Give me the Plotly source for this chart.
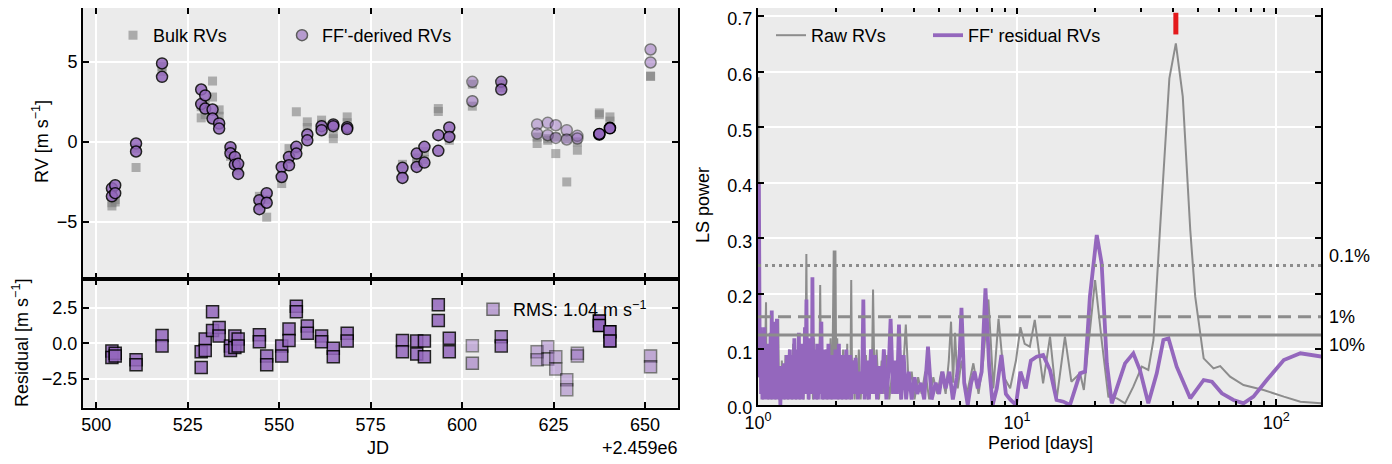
import plotly.graph_objects as go

# The page places the figure 8 px from the window's top-left corner.
OFF = 8
W, H = 1392 - OFF, 464 - OFF

# ---------------- RV time series (JD - 2459000) ----------------
jd = [504.3, 504.3, 505.2, 505.2,
      510.9, 510.9,
      518.0, 518.0,
      528.7, 528.7, 529.8, 529.8, 531.8, 531.8, 533.6, 533.6,
      536.7, 536.7, 537.9, 537.9, 538.8, 538.8,
      544.6, 544.6, 546.6, 546.6,
      550.7, 550.7, 552.7, 552.7, 554.7, 554.7, 557.7, 557.7,
      561.6, 561.6, 564.8, 564.8, 568.6, 568.6,
      583.7, 583.7, 587.6, 587.6, 589.7, 589.7, 593.5, 593.5, 596.5, 596.5,
      602.8, 602.8,
      610.7, 610.7,
      620.5, 620.5, 623.4, 623.4, 625.6, 625.6, 628.6, 628.6, 631.5, 631.5,
      637.5, 637.5, 640.4, 640.4,
      651.5, 651.5]

ff_rv = [-2.9, -3.4, -2.7, -3.2,
         -0.1, -0.6,
         4.9, 4.06,
         3.27, 2.36, 2.9, 2.08, 2.02, 1.46, 1.15, 0.83,
         -0.33, -0.71, -0.94, -1.42, -1.37, -2.0,
         -3.64, -4.2, -3.2, -3.8,
         -1.56, -2.19, -0.94, -1.46, -0.31, -0.73, 0.46, 0.1,
         0.98, 0.73, 1.09, 0.98, 0.92, 0.8,
         -1.62, -2.25, -0.73, -1.56, -0.31, -1.29, 0.42, -0.56, 0.9, 0.31,
         3.75, 2.54,
         3.75, 3.27,
         1.09, 0.52, 1.19, 0.42, 1.04, 0.25, 0.73, 0.15, 0.38, 0.21,
         0.46, 0.5, 0.88, 0.85,
         5.77, 4.96]

bulk_rv = [-3.8, -4.0, -3.6, -3.75,
           -1.6, -0.4,
           4.7, 4.4,
           2.2, 1.5, 2.4, 1.7, 3.8, 2.8, 2.0, 1.6,
           -0.5, -0.9, -1.1, -1.3, -1.6, -1.8,
           -3.4, -4.0, -3.6, -4.7,
           -2.1, -2.6, -0.42, -1.1, 1.88, -0.5, 1.25, 0.9,
           1.36, 1.1, 0.52, 0.2, 1.56, 1.2,
           -1.4, -2.0, -1.35, -1.0, -0.6, -1.1, 2.08, 1.9, 0.3, 0.1,
           3.6, 2.23,
           3.6, 3.4,
           -0.1, 0.3, 0.1, 0.2, -0.73, 0.3, -2.5, 0.2, -0.52, 0.0,
           1.81, 1.7, 1.56, 1.3,
           4.1, 4.1]

resid = [-0.55, -1.0, -0.7, -0.9,
         -1.15, -1.5,
         0.55, -0.2,
         -0.6, -1.7, 0.3, -0.5, 2.2, 0.9, 1.1, 0.5,
         -0.2, -0.5, 0.5, -0.3, 0.3, -0.2,
         0.6, 0.1, -0.9, -1.5,
         -0.2, -0.9, 1.0, 0.2, 2.6, 2.2, 1.2, 0.7,
         0.5, 0.1, -0.35, -0.95, 0.7, 0.15,
         0.2, -0.6, 0.15, -0.75, 0.15, -0.95, 2.7, 1.6, 0.35, -0.6,
         -0.18, -1.4,
         0.45, -0.2,
         -0.6, -1.15, -0.25, -1.1, -0.95, -1.8, -2.55, -3.25, -0.7, -0.9,
         1.55, 1.25, 0.8, 0.15,
         -0.9, -1.65]

weight = [0.85, 0.85, 0.85, 0.85,
          0.85, 0.85,
          0.85, 0.85,
          0.85, 0.85, 0.85, 0.85, 0.85, 0.85, 0.85, 0.85,
          0.85, 0.85, 0.85, 0.85, 0.85, 0.85,
          0.85, 0.85, 0.85, 0.85,
          0.85, 0.85, 0.85, 0.85, 0.85, 0.85, 0.85, 0.85,
          0.85, 0.85, 0.85, 0.85, 0.85, 0.85,
          0.85, 0.85, 0.85, 0.85, 0.85, 0.85, 0.85, 0.85, 0.85, 0.85,
          0.45, 0.55,
          0.75, 0.8,
          0.45, 0.45, 0.45, 0.45, 0.45, 0.45, 0.45, 0.45, 0.45, 0.45,
          1.0, 1.0, 1.0, 1.0,
          0.5, 0.5]

rms_label = "RMS: 1.04 m s<sup>−1</sup>"

# ---------------- Lomb-Scargle periodograms ----------------
raw_period = [1.000, 1.003, 1.006, 1.012, 1.020, 1.028, 1.036, 1.044, 1.052, 1.060,
              1.068, 1.074, 1.080, 1.088, 1.096, 1.104, 1.112, 1.120, 1.128, 1.138,
              1.148, 1.158, 1.168, 1.178, 1.188, 1.197, 1.206, 1.216, 1.226, 1.236,
              1.246, 1.256, 1.266, 1.276, 1.286, 1.296, 1.306, 1.318, 1.330, 1.342,
              1.354, 1.366, 1.378, 1.390, 1.402, 1.414, 1.426, 1.438, 1.450, 1.462,
              1.474, 1.486, 1.498, 1.510, 1.522, 1.537, 1.550, 1.562, 1.574, 1.588,
              1.602, 1.616, 1.630, 1.646, 1.660, 1.676, 1.690, 1.706, 1.722, 1.738,
              1.752, 1.768, 1.784, 1.800, 1.816, 1.834, 1.852, 1.870, 1.888, 1.906,
              1.924, 1.942, 1.960, 1.975, 1.990, 2.005, 2.022, 2.040, 2.058, 2.076,
              2.094, 2.112, 2.130, 2.150, 2.170, 2.190, 2.210, 2.230, 2.250, 2.270,
              2.290, 2.310, 2.335, 2.360, 2.390, 2.420, 2.450, 2.490, 2.530, 2.570,
              2.610, 2.650, 2.700, 2.745, 2.780, 2.820, 2.870, 2.930, 3.000, 3.070,
              3.140, 3.210, 3.300, 3.380, 3.460, 3.550, 3.640, 3.720, 3.820, 3.920,
              4.020, 4.150, 4.280, 4.420, 4.580, 4.750, 4.920, 5.100, 5.300, 5.450,
              5.560, 5.660, 5.760, 5.900, 6.100, 6.400, 6.780, 7.100, 7.400, 7.750,
              8.100, 8.480, 8.900, 9.400, 9.900, 10.30, 10.70, 11.20, 11.70, 12.60,
              13.40, 14.20, 15.30, 16.20, 17.50, 18.10, 20.00, 21.20, 22.50, 24.30,
              26.10, 28.10, 30.30, 32.10, 33.60, 35.60, 38.70, 41.00, 43.60, 46.60,
              48.70, 52.50, 57.30, 60.80, 66.40, 74.80, 89.40, 107.0, 124.0, 150.0]
raw_power = [0.50, 0.59, 0.40, 0.05, 0.12, 0.02, 0.09, 0.01, 0.07, 0.02,
             0.12, 0.185, 0.02, 0.08, 0.01, 0.06, 0.02, 0.09, 0.01, 0.07,
             0.02, 0.10, 0.01, 0.09, 0.02, 0.155, 0.01, 0.05, 0.00, 0.08,
             0.02, 0.06, 0.01, 0.09, 0.02, 0.07, 0.01, 0.10, 0.02, 0.08,
             0.01, 0.11, 0.02, 0.07, 0.01, 0.09, 0.02, 0.12, 0.01, 0.08,
             0.02, 0.10, 0.01, 0.07, 0.02, 0.272, 0.03, 0.09, 0.01, 0.11,
             0.02, 0.08, 0.01, 0.12, 0.02, 0.09, 0.01, 0.10, 0.02, 0.216,
             0.03, 0.09, 0.01, 0.08, 0.02, 0.10, 0.01, 0.09, 0.02, 0.12,
             0.01, 0.10, 0.278, 0.05, 0.278, 0.04, 0.12, 0.01, 0.09, 0.02,
             0.08, 0.01, 0.10, 0.02, 0.08, 0.01, 0.11, 0.02, 0.09, 0.01,
             0.225, 0.02, 0.08, 0.01, 0.09, 0.02, 0.10, 0.01, 0.07, 0.02,
             0.09, 0.01, 0.08, 0.02, 0.208, 0.02, 0.10, 0.01, 0.08, 0.02,
             0.09, 0.01, 0.06, 0.02, 0.08, 0.01, 0.07, 0.145, 0.03, 0.06,
             0.01, 0.05, 0.02, 0.06, 0.01, 0.05, 0.02, 0.06, 0.02, 0.08,
             0.15, 0.04, 0.13, 0.03, 0.08, 0.02, 0.075, 0.02, 0.08, 0.19,
             0.03, 0.155, 0.05, 0.03, 0.08, 0.14, 0.11, 0.105, 0.153, 0.039,
             0.123, 0.009, 0.123, 0.042, 0.057, 0.027, 0.225, 0.117, 0.015, 0.012,
             0.003, 0.033, 0.069, 0.063, 0.117, 0.315, 0.588, 0.651, 0.555, 0.315,
             0.195, 0.084, 0.066, 0.070, 0.051, 0.036, 0.027, 0.015, 0.006, 0.003]

ff_period = [1.000, 1.008, 1.016, 1.022, 1.028, 1.034, 1.040, 1.046, 1.052, 1.058,
             1.064, 1.070, 1.076, 1.082, 1.088, 1.094, 1.100, 1.106, 1.112, 1.118,
             1.124, 1.130, 1.136, 1.142, 1.148, 1.155, 1.162, 1.169, 1.176, 1.183,
             1.190, 1.197, 1.204, 1.212, 1.220, 1.228, 1.236, 1.244, 1.252, 1.260,
             1.268, 1.276, 1.284, 1.292, 1.300, 1.309, 1.318, 1.327, 1.336, 1.345,
             1.354, 1.363, 1.372, 1.381, 1.390, 1.399, 1.408, 1.418, 1.428, 1.438,
             1.448, 1.458, 1.468, 1.478, 1.488, 1.498, 1.508, 1.518, 1.528, 1.538,
             1.548, 1.558, 1.568, 1.580, 1.592, 1.606, 1.615, 1.622, 1.632, 1.644,
             1.656, 1.668, 1.680, 1.692, 1.704, 1.716, 1.728, 1.742, 1.756, 1.770,
             1.784, 1.798, 1.812, 1.826, 1.840, 1.855, 1.870, 1.885, 1.900, 1.915,
             1.930, 1.945, 1.960, 1.975, 1.990, 2.005, 2.020, 2.036, 2.052, 2.068,
             2.084, 2.100, 2.118, 2.136, 2.154, 2.172, 2.190, 2.210, 2.230, 2.250,
             2.270, 2.290, 2.320, 2.350, 2.380, 2.430, 2.480, 2.520, 2.550, 2.580,
             2.630, 2.680, 2.730, 2.780, 2.830, 2.880, 2.940, 3.000, 3.060, 3.130,
             3.190, 3.250, 3.320, 3.380, 3.440, 3.500, 3.570, 3.650, 3.730, 3.820,
             3.920, 4.020, 4.120, 4.250, 4.380, 4.530, 4.680, 4.850, 5.000, 5.150,
             5.300, 5.480, 5.650, 5.850, 6.000, 6.100, 6.250, 6.450, 6.650, 6.850,
             7.050, 7.300, 7.550, 7.800, 8.050, 8.350, 8.700, 9.050, 9.400, 9.900,
             10.30, 10.80, 11.30, 11.90, 12.60, 13.40, 14.20, 15.10, 16.00, 17.50,
             18.30, 19.10, 20.30, 21.20, 22.20, 23.20, 24.60, 26.10, 28.10, 29.80,
             32.10, 34.60, 36.70, 38.40, 41.30, 46.60, 52.50, 56.50, 61.70, 68.40,
             74.80, 81.70, 92.00, 107.0, 124.0, 150.0]
ff_power = [0.30, 0.40, 0.05, 0.14, 0.02, 0.12, 0.01, 0.10, 0.03, 0.14,
            0.01, 0.09, 0.02, 0.06, 0.01, 0.11, 0.02, 0.08, 0.01, 0.13,
            0.03, 0.17, 0.02, 0.10, 0.01, 0.15, 0.02, 0.08, 0.01, 0.155,
            0.02, 0.07, 0.01, 0.05, 0.00, 0.07, 0.01, 0.06, 0.02, 0.075,
            0.01, 0.06, 0.02, 0.09, 0.01, 0.07, 0.02, 0.10, 0.01, 0.06,
            0.02, 0.09, 0.01, 0.12, 0.02, 0.07, 0.01, 0.10, 0.03, 0.13,
            0.01, 0.08, 0.02, 0.11, 0.01, 0.09, 0.02, 0.14, 0.03, 0.19,
            0.02, 0.10, 0.01, 0.12, 0.02, 0.09, 0.03, 0.23, 0.02, 0.10,
            0.01, 0.08, 0.02, 0.11, 0.01, 0.07, 0.02, 0.09, 0.15, 0.01,
            0.08, 0.02, 0.10, 0.01, 0.07, 0.02, 0.11, 0.01, 0.08, 0.02,
            0.09, 0.01, 0.07, 0.02, 0.10, 0.01, 0.08, 0.02, 0.11, 0.01,
            0.07, 0.02, 0.09, 0.01, 0.08, 0.02, 0.10, 0.01, 0.07, 0.02,
            0.09, 0.01, 0.08, 0.02, 0.085, 0.01, 0.06, 0.02, 0.19, 0.01,
            0.08, 0.01, 0.10, 0.02, 0.09, 0.01, 0.07, 0.02, 0.10, 0.01,
            0.06, 0.155, 0.02, 0.08, 0.02, 0.145, 0.01, 0.09, 0.01, 0.06,
            0.01, 0.05, 0.02, 0.04, 0.01, 0.105, 0.01, 0.04, 0.02, 0.06,
            0.03, 0.06, 0.01, 0.05, 0.09, 0.175, 0.04, 0.00, 0.04, 0.06,
            0.03, 0.06, 0.21, 0.07, 0.00, 0.03, 0.09, 0.02, 0.01, 0.00,
            0.06, 0.03, 0.08, 0.087, 0.09, 0.063, 0.009, 0.006, 0.00, 0.057,
            0.06, 0.195, 0.306, 0.255, 0.075, 0.003, 0.039, 0.075, 0.093, 0.063,
            0.003, 0.057, 0.117, 0.12, 0.069, 0.012, 0.045, 0.042, 0.021, 0.009,
            0.003, 0.015, 0.045, 0.081, 0.093, 0.087]

fap_power = [0.251, 0.159, 0.126]
fap_label = ["0.1%", "1%", "10%"]
planet_period = 41.0
planet_mark_power = [0.667, 0.706]

# ---------------- styling ----------------
FONT = "Liberation Sans, Arial, Helvetica, sans-serif"
FS = 18
PURPLE = "#9467bd"
GRAY = "#8c8c8c"
BG = "#ebebeb"


def px(x):
    """screen x pixel -> paper fraction"""
    return (x - OFF) / W


def py(y):
    """screen y pixel -> paper fraction"""
    return 1 - (y - OFF) / H


xL = [px(83), px(678)]
xR = [px(758), px(1321)]
yTop = [py(279), 1.0]
yBot = [py(407.5), py(279)]
yRight = [py(405), 1.0]

fig = go.Figure()

fig.add_trace(go.Scatter(
    x=jd, y=bulk_rv, mode="markers", name="Bulk RVs",
    marker=dict(symbol="square", size=9, color="gray", opacity=0.6, line=dict(width=0)),
    xaxis="x", yaxis="y", legend="legend"))
fig.add_trace(go.Scatter(
    x=jd, y=ff_rv, mode="markers", name="FF'-derived RVs", showlegend=False,
    marker=dict(symbol="circle", size=11, color=PURPLE, opacity=weight,
                line=dict(width=1.5, color="black")),
    xaxis="x", yaxis="y"))
fig.add_trace(go.Scatter(
    x=[None], y=[None], mode="markers", name="FF'-derived RVs",
    marker=dict(symbol="circle", size=11, color=PURPLE, opacity=0.6,
                line=dict(width=1.5, color="black")),
    xaxis="x", yaxis="y", legend="legend4"))

fig.add_trace(go.Scatter(
    x=jd, y=resid, mode="markers", showlegend=False,
    marker=dict(symbol="square", size=12, color=PURPLE, opacity=weight,
                line=dict(width=1.5, color="black")),
    xaxis="x2", yaxis="y2"))
fig.add_trace(go.Scatter(
    x=[None], y=[None], mode="markers", name=rms_label,
    marker=dict(symbol="square", size=12, color=PURPLE, opacity=0.55,
                line=dict(width=1.5, color="black")),
    xaxis="x2", yaxis="y2", legend="legend2"))

fig.add_trace(go.Scatter(
    x=raw_period, y=raw_power, mode="lines", name="Raw RVs",
    line=dict(color=GRAY, width=2, simplify=False),
    xaxis="x3", yaxis="y3", legend="legend3"))
fig.add_trace(go.Scatter(
    x=ff_period, y=ff_power, mode="lines", name="FF' residual RVs",
    line=dict(color=PURPLE, width=3.8, simplify=False),
    xaxis="x3", yaxis="y3", legend="legend5"))
fig.add_trace(go.Scatter(
    x=[planet_period, planet_period], y=planet_mark_power, mode="lines",
    showlegend=False, line=dict(color="#e41a1c", width=5),
    xaxis="x3", yaxis="y3"))

dashes = ["3px,4px", "13px,7px", "solid"]
label_shift = [10, 0, -10]
for p, lab, d, s in zip(fap_power, fap_label, dashes, label_shift):
    fig.add_shape(type="line", xref="x3 domain", yref="y3", x0=0, x1=1, y0=p, y1=p,
                  line=dict(color=GRAY, width=3, dash=d), layer="above")
    fig.add_annotation(xref="x3 domain", yref="y3", x=1.01, y=p, text=lab,
                       showarrow=False, xanchor="left", yanchor="middle", yshift=s,
                       font=dict(size=FS, family=FONT, color="black"))

axis_common = dict(
    showline=True, linecolor="black", linewidth=2, mirror="allticks",
    ticks="inside", ticklen=6, tickwidth=1.5, tickcolor="black",
    showgrid=True, gridcolor="white", gridwidth=2, zeroline=False,
    automargin=False, ticklabeloverflow="allow",
    tickfont=dict(size=FS, family=FONT, color="black"),
)


def leg(x, y):
    return dict(x=px(x), y=py(y), xanchor="left", yanchor="top", orientation="h",
                bgcolor="rgba(0,0,0,0)", font=dict(size=FS, family=FONT), itemwidth=30)


fig.update_layout(
    width=W, height=H, margin=dict(l=0, r=0, t=0, b=0),
    paper_bgcolor="white", plot_bgcolor=BG,
    font=dict(family=FONT, size=FS, color="black"),
    xaxis=dict(domain=xL, anchor="y", range=[496.4, 659], tick0=500, dtick=25,
               showticklabels=False, matches="x2", **axis_common),
    yaxis=dict(domain=yTop, anchor="x", range=[-8.56, 8.36], tickvals=[-5, 0, 5],
               **axis_common),
    xaxis2=dict(domain=xL, anchor="y2", range=[496.4, 659], tick0=500, dtick=25,
                **axis_common),
    yaxis2=dict(domain=yBot, anchor="x2", range=[-4.5, 4.5], tickvals=[-2.5, 0, 2.5],
                tickformat=".1f", **axis_common),
    xaxis3=dict(domain=xR, anchor="y3", type="log", range=[0, 2.173],
                tickvals=[1, 10, 100],
                ticktext=["10<sup>0</sup>", "10<sup>1</sup>", "10<sup>2</sup>"],
                minor=dict(ticks="inside", ticklen=4, tickcolor="black", showgrid=False,
                           tickvals=[2, 3, 4, 5, 6, 7, 8, 9, 20, 30, 40, 50, 60, 70, 80, 90]),
                **axis_common),
    yaxis3=dict(domain=yRight, anchor="x3", range=[0, 0.7146], dtick=0.1, tick0=0,
                tickformat=".1f", ticklabelshift=3, **axis_common),
    legend=leg(113, 17),
    legend4=leg(282, 17),
    legend2=leg(473, 291),
    legend3=leg(771, 17),
    legend5=leg(928, 17),
)

# axis titles / offset text
ann = dict(showarrow=False, xanchor="center", yanchor="middle",
           font=dict(size=FS, family=FONT, color="black"), xref="paper", yref="paper")
fig.add_annotation(x=px(40), y=py(142), text="RV [m s<sup>−1</sup>]", textangle=-90, **ann)
fig.add_annotation(x=px(20), y=py(343), text="Residual [m s<sup>−1</sup>]", textangle=-90, **ann)
fig.add_annotation(x=px(378), y=py(448), text="JD", **ann)
fig.add_annotation(x=px(640), y=py(448), text="+2.459e6", **ann)
fig.add_annotation(x=px(703), y=py(205), text="LS power", textangle=-90, **ann)
fig.add_annotation(x=px(1040), y=py(443), text="Period [days]", **ann)

fig.write_html("out.html")
